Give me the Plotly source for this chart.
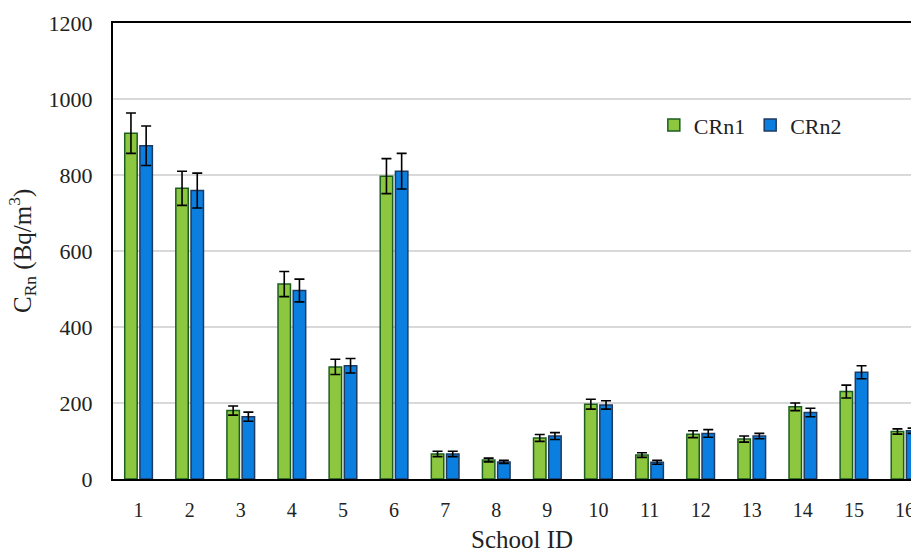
import plotly.graph_objects as go

school_ids = [str(i) for i in range(1, 17)]
crn1 = [910, 765, 180, 513, 295, 797, 66, 50, 108, 197, 63, 118, 105, 190, 230, 125]
crn1_err = [53, 45, 12, 33, 20, 46, 7, 5, 9, 13, 6, 9, 8, 10, 17, 7]
crn2 = [877, 759, 164, 496, 298, 810, 66, 45, 113, 195, 44, 120, 113, 175, 281, 127]
crn2_err = [52, 46, 12, 30, 19, 47, 7, 4, 9, 11, 5, 10, 7, 11, 17, 7]

FONT = "Liberation Serif, Times New Roman, serif"

err_style = dict(type="data", visible=True, color="black", thickness=1.6, width=5)

fig = go.Figure()
fig.add_trace(go.Bar(
    x=school_ids, y=crn1, name="CRn1",
    marker=dict(color="#8DC63F", line=dict(color="#1B5E20", width=1.5)),
    error_y=dict(array=crn1_err, **err_style),
))
fig.add_trace(go.Bar(
    x=school_ids, y=crn2, name="CRn2",
    marker=dict(color="#0A7FE0", line=dict(color="#1F3A60", width=1.5)),
    error_y=dict(array=crn2_err, **err_style),
))

# page has an 8px body margin, so the figure is 911x544 and offset by 8px
FIG_W, FIG_H = 911, 544
PLOT_W = FIG_W - 105
PLOT_H = 456
fig.update_layout(
    width=FIG_W, height=FIG_H,
    margin=dict(l=105, r=0, t=15, b=FIG_H - 15 - PLOT_H, autoexpand=False),
    paper_bgcolor="white", plot_bgcolor="white",
    font=dict(family=FONT, size=20, color="#222222"),
    barmode="group", bargap=0.405, bargroupgap=0.18,
    showlegend=True,
    legend=dict(orientation="h", x=0.671, y=0.776,
                xanchor="left", yanchor="middle",
                font=dict(size=22, family=FONT), bgcolor="rgba(0,0,0,0)",
                itemwidth=30, tracegroupgap=0),
)

fig.update_xaxes(
    type="category", range=[-0.5, -0.5 + PLOT_W / 51.1], automargin=False,
    showline=True, linecolor="black", linewidth=2, mirror=True,
    showgrid=False, ticks="", ticklabelstandoff=12,
    tickfont=dict(size=20, family=FONT),
)
fig.update_yaxes(
    range=[0, 1200], dtick=200, tick0=0, automargin=False,
    showline=True, linecolor="black", linewidth=2,
    showgrid=True, gridcolor="#D9D9D9", gridwidth=1.5,
    zeroline=False, ticks="", ticklabelstandoff=14,
    tickfont=dict(size=22, family=FONT),
)

fig.add_annotation(
    text="School ID", xref="paper", yref="paper",
    x=(522 - 113) / PLOT_W, y=-(539 - 479) / PLOT_H, xanchor="center", yanchor="middle",
    showarrow=False, font=dict(size=25, family=FONT),
)
fig.add_annotation(
    text="C<sub>Rn</sub> (Bq/m<sup>3</sup>)", xref="paper", yref="paper",
    x=(22 - 113) / PLOT_W, y=0.5, xanchor="center", yanchor="middle", textangle=-90,
    showarrow=False, font=dict(size=25, family=FONT),
)

fig.write_html("out.html")
